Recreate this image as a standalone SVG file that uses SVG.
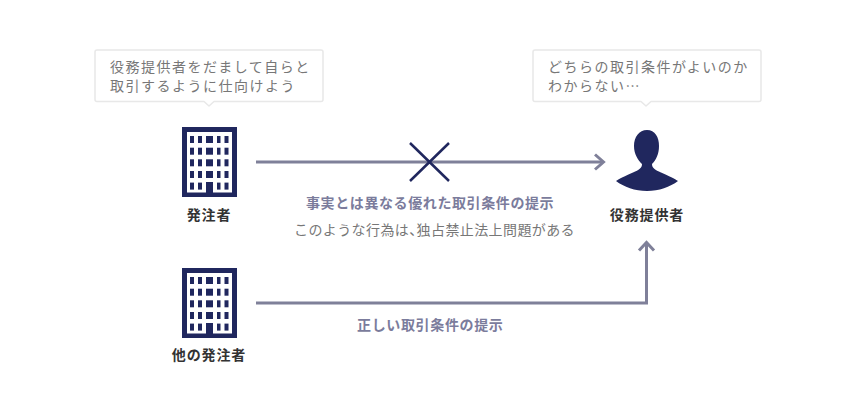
<svg xmlns="http://www.w3.org/2000/svg" xmlns:xlink="http://www.w3.org/1999/xlink" width="860" height="410" viewBox="0 0 860 410">
<style>
text{font-family:"Noto Sans CJK JP","Noto Sans",sans-serif}
.say{font-size:14px;fill:#777;letter-spacing:1.5px}
.name{font-size:14px;font-weight:700;fill:#333;text-anchor:middle;letter-spacing:.9px}
.mid{font-size:14px;font-weight:700;fill:#7b7c9c}
.note{font-size:14px;fill:#777;letter-spacing:.4px}
.bubble{fill:#fff;stroke:#e8e8e8;stroke-width:1.5;stroke-linejoin:round}
.link{fill:none;stroke:#7f8099;stroke-width:3}
.ink{fill:#20275e}
</style>
<defs>
<g id="building">
<rect class="ink" x="182" y="127" width="55" height="70"/>
<rect fill="#fff" x="187" y="132" width="45" height="60.500"/>
<g class="ink">
<g id="row"><rect x="190" y="136" width="4" height="7"/><rect x="198" y="136" width="4" height="7"/><rect x="206" y="136" width="7" height="7"/><rect x="217" y="136" width="3.500" height="7"/><rect x="224.500" y="136" width="4" height="7"/></g>
<use xlink:href="#row" href="#row" y="11.700"/>
<use xlink:href="#row" href="#row" y="23.300"/>
<use xlink:href="#row" href="#row" y="35"/>
<use xlink:href="#row" href="#row" y="46.600"/>
<rect x="206" y="182" width="7" height="12"/>
</g>
</g>
</defs>
<g id="connectors">
<path class="link" d="M256 162H603"/>
<path class="link" d="M595 154.500L603.500 162L595 169.500"/>
<path class="link" d="M256 303H646.500V243"/>
<path class="link" d="M639 250.500L646.500 242.500L654 250.500"/>
<path fill="none" stroke="#20275e" stroke-width="2.500" d="M410 143L449 181M449 143L410 181"/>
</g>
<g id="bubble-left">
<path class="bubble" d="M97 50H321Q323 50 323 52V99.500Q323 101.500 321 101.500H214L209 106L204 101.500H97Q95 101.500 95 99.500V52Q95 50 97 50Z"/>
<text class="say" x="110" y="72">役務提供者をだまして自らと</text>
<text class="say" x="110" y="91">取引するように仕向けよう</text>
</g>
<g id="bubble-right">
<path class="bubble" d="M535 50H759Q761 50 761 52V99.500Q761 101.500 759 101.500H651L646 106L641 101.500H535Q533 101.500 533 99.500V52Q533 50 535 50Z"/>
<text class="say" x="548" y="72">どちらの取引条件がよいのか</text>
<text class="say" x="548" y="91">わからない…</text>
</g>
<g id="node-orderer">
<use xlink:href="#building" href="#building"/>
<text class="name" x="209" y="220">発注者</text>
</g>
<g id="node-other">
<use xlink:href="#building" href="#building" y="141"/>
<text class="name" x="209" y="360">他の発注者</text>
</g>
<g id="node-provider">
<path class="ink" d="M647 130C655 130 659 137 659 146C659 154 656 160 652 164C652 168 655 170 661 172.500C669 176 675 179 678 181C670 187 659 191 647 191C635 191 624 187 616 181C619 179 625 176 633 172.500C639 170 642 168 642 164C638 160 634 154 634 146C634 137 639 130 647 130Z"/>
<text class="name" x="647" y="220">役務提供者</text>
</g>
<g id="labels">
<text class="mid" x="306" y="208" style="letter-spacing:.6px">事実とは異なる優れた取引条件の提示</text>
<text class="note" x="294" y="235">このような行為は、<tspan dx="-7">独占禁止法上問題がある</tspan></text>
<text class="mid" x="357" y="330" style="letter-spacing:.65px">正しい取引条件の提示</text>
</g>
</svg>
